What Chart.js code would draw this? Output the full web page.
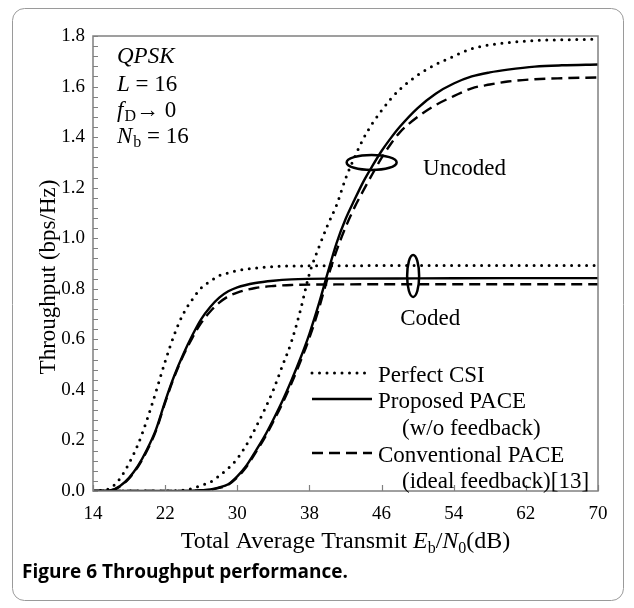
<!DOCTYPE html>
<html>
<head>
<meta charset="utf-8">
<script src="https://cdn.jsdelivr.net/npm/chart.js@4.4.1/dist/chart.umd.min.js"></script>
<style>
  html, body { margin: 0; padding: 0; background: #fff; }
  #wrap { width: 634px; height: 608px; }
</style>
</head>
<body>
<div id="wrap"><canvas id="throughput-chart" width="634" height="608"></canvas></div>
<script>
// Eb/N0 grid (dB) and throughput (bps/Hz)
const codedDb = [14, 15, 16, 17, 18, 19, 20, 21, 22, 23, 24, 25, 26, 27, 28, 29, 30, 32, 34, 36, 40, 50, 60, 70];
const codedPerfect = [0, 0.003, 0.013, 0.05, 0.11, 0.185, 0.283, 0.395, 0.512, 0.617, 0.7, 0.757, 0.803, 0.83, 0.852, 0.863, 0.872, 0.882, 0.888, 0.89, 0.891, 0.892, 0.892, 0.892];
const codedProposed = [0, 0, 0.003, 0.02, 0.052, 0.1, 0.165, 0.245, 0.355, 0.455, 0.54, 0.615, 0.68, 0.728, 0.765, 0.79, 0.806, 0.823, 0.832, 0.837, 0.84, 0.841, 0.842, 0.842];
const codedConventional = [0, 0, 0.002, 0.018, 0.05, 0.097, 0.16, 0.24, 0.35, 0.45, 0.535, 0.605, 0.665, 0.71, 0.745, 0.77, 0.785, 0.803, 0.811, 0.815, 0.817, 0.818, 0.818, 0.818];

const uncodedDb = [14, 20, 22, 24, 25, 26, 27, 28, 29, 30, 31, 32, 33, 34, 35, 36, 37, 38, 39, 40, 41, 42, 43, 44, 45, 46, 47, 48, 50, 52, 54, 56, 58, 60, 63, 66, 70];
const uncodedPerfect = [0, 0, 0, 0.003, 0.01, 0.022, 0.035, 0.06, 0.09, 0.128, 0.182, 0.248, 0.32, 0.4, 0.495, 0.59, 0.715, 0.86, 0.96, 1.05, 1.13, 1.235, 1.32, 1.395, 1.455, 1.505, 1.55, 1.588, 1.645, 1.687, 1.72, 1.75, 1.765, 1.774, 1.782, 1.785, 1.787];
const uncodedProposed = [0, 0, 0, 0, 0.001, 0.003, 0.006, 0.014, 0.027, 0.058, 0.1, 0.156, 0.215, 0.283, 0.356, 0.437, 0.525, 0.622, 0.735, 0.86, 0.98, 1.075, 1.152, 1.225, 1.287, 1.345, 1.395, 1.44, 1.515, 1.572, 1.612, 1.64, 1.656, 1.667, 1.679, 1.684, 1.687];
const uncodedConventional = [0, 0, 0, 0, 0.001, 0.002, 0.005, 0.012, 0.025, 0.054, 0.095, 0.15, 0.208, 0.275, 0.346, 0.425, 0.512, 0.606, 0.715, 0.84, 0.95, 1.043, 1.122, 1.19, 1.255, 1.318, 1.372, 1.418, 1.48, 1.527, 1.562, 1.593, 1.608, 1.62, 1.629, 1.633, 1.636];

const xMin = 14, xMax = 70, xStep = 8;
const yMin = 0, yMax = 1.8, yStep = 0.2;

const SERIF = "'Liberation Serif', 'Times New Roman', serif";

const styles = {
  dot: { borderDash: [0, 7.5], borderWidth: 3, borderCapStyle: "round" },
  solid: { borderDash: [], borderWidth: 2.4, borderCapStyle: "butt" },
  dash: { borderDash: [11, 6], borderWidth: 2.4, borderCapStyle: "butt" },
};

function series(xs, ys, style) {
  return {
    data: xs.map((x, i) => ({ x: x, y: ys[i] })),
    borderColor: "#000",
    pointRadius: 0,
    fill: false,
    cubicInterpolationMode: "monotone",
    ...styles[style],
  };
}

// draw a run of text pieces one after another on a baseline
function runs(ctx, parts, x, y) {
  let cx = x;
  parts.forEach((p) => {
    ctx.font = p.font;
    ctx.fillText(p.t, cx, y + (p.dy || 0));
    cx += ctx.measureText(p.t).width + (p.gap || 0);
  });
  return cx;
}

function partsWidth(ctx, parts) {
  let w = 0;
  parts.forEach((p) => { ctx.font = p.font; w += ctx.measureText(p.t).width + (p.gap || 0); });
  return w;
}

const decor = {
  id: "decor",
  afterDraw(chart) {
    const { ctx, chartArea: a } = chart;
    const x = chart.scales.x, y = chart.scales.y;
    ctx.save();

    // frame and inward ticks
    ctx.strokeStyle = "#808080";
    ctx.lineWidth = 1.5;
    ctx.strokeRect(a.left, a.top, a.right - a.left, a.bottom - a.top);
    ctx.beginPath();
    for (let v = xMin; v <= xMax; v += xStep) {
      const px = Math.round(x.getPixelForValue(v)) + 0.5;
      ctx.moveTo(px, a.bottom);
      ctx.lineTo(px, a.bottom - 6);
    }
    for (let i = 0; i <= 45; i++) {
      const py = Math.round(y.getPixelForValue(i * yStep / 5)) + 0.5;
      ctx.moveTo(a.left, py);
      ctx.lineTo(a.left + 5, py);
    }
    ctx.lineWidth = 1.2;
    ctx.stroke();

    ctx.fillStyle = "#000";
    ctx.strokeStyle = "#000";
    ctx.textBaseline = "alphabetic";
    ctx.textAlign = "left";

    // group ellipses
    ctx.lineWidth = 2.5;
    ctx.beginPath();
    ctx.ellipse(x.getPixelForValue(44.9), y.getPixelForValue(1.3), 25, 7.5, 0, 0, Math.PI * 2);
    ctx.stroke();
    ctx.beginPath();
    ctx.ellipse(x.getPixelForValue(49.5), y.getPixelForValue(0.851), 6, 21, 0, 0, Math.PI * 2);
    ctx.stroke();

    const f = "23px " + SERIF;
    const fi = "italic 23px " + SERIF;
    const fs = "16px " + SERIF;
    ctx.font = f;
    ctx.fillText("Uncoded", x.getPixelForValue(50.6), y.getPixelForValue(1.28) + 8);
    ctx.textAlign = "center";
    ctx.fillText("Coded", x.getPixelForValue(51.4), y.getPixelForValue(0.69) + 8);
    ctx.textAlign = "left";

    // parameters, top left
    const px0 = a.left + 24;
    runs(ctx, [{ t: "QPSK", font: fi }], px0, a.top + 27);
    runs(ctx, [{ t: "L", font: fi }, { t: " = 16", font: f }], px0, a.top + 55);
    runs(ctx, [{ t: "f", font: fi, gap: 1 }, { t: "D", font: fs, dy: 4 }, { t: "\u2192 0", font: f }], px0, a.top + 81);
    runs(ctx, [{ t: "N", font: fi, gap: 1 }, { t: "b", font: fs, dy: 4 }, { t: " = 16", font: f }], px0, a.top + 107);

    // legend
    const lx0 = a.left + 219, lx1 = a.left + 279, tx = a.left + 285, tx2 = a.left + 309;
    const rowY = [382, 408, 435, 462, 488];
    [["dot", 0], ["solid", 1], ["dash", 3]].forEach(([s, r]) => {
      ctx.save();
      ctx.setLineDash(styles[s].borderDash);
      ctx.lineWidth = styles[s].borderWidth;
      ctx.lineCap = styles[s].borderCapStyle;
      ctx.beginPath();
      ctx.moveTo(lx0, rowY[r] - 9);
      ctx.lineTo(lx1, rowY[r] - 9);
      ctx.stroke();
      ctx.restore();
    });
    ctx.font = f;
    ctx.fillText("Perfect CSI", tx, rowY[0]);
    ctx.fillText("Proposed PACE", tx, rowY[1]);
    ctx.fillText("(w/o feedback)", tx2, rowY[2]);
    ctx.fillText("Conventional PACE", tx, rowY[3]);
    ctx.fillText("(ideal feedback)[13]", tx2, rowY[4]);

    // axis titles
    const xt = [
      { t: "Total Average Transmit ", font: "24px " + SERIF },
      { t: "E", font: "italic 24px " + SERIF },
      { t: "b", font: "16px " + SERIF, dy: 5 },
      { t: "/", font: "24px " + SERIF },
      { t: "N", font: "italic 24px " + SERIF },
      { t: "0", font: "16px " + SERIF, dy: 5 },
      { t: "(dB)", font: "24px " + SERIF },
    ];
    const w = partsWidth(ctx, xt);
    runs(ctx, xt, (a.left + a.right) / 2 - w / 2, 548);

    ctx.save();
    ctx.translate(49, 277);
    ctx.rotate(-Math.PI / 2);
    ctx.textAlign = "center";
    ctx.textBaseline = "middle";
    ctx.font = "23px " + SERIF;
    ctx.fillText("Throughput (bps/Hz)", 0, 0);
    ctx.restore();

    // caption and figure box
    ctx.font = "bold 19px 'Open Sans', 'Noto Sans', sans-serif";
    ctx.fillText("Figure 6 Throughput performance.", 22, 578);
    ctx.strokeStyle = "#9a9a9a";
    ctx.lineWidth = 1;
    ctx.beginPath();
    ctx.roundRect(12.5, 8.5, 611, 592, 12);
    ctx.stroke();

    ctx.restore();
  },
};

new Chart(document.getElementById("throughput-chart"), {
  type: "line",
  data: {
    datasets: [
      series(codedDb, codedPerfect, "dot"),
      series(codedDb, codedProposed, "solid"),
      series(codedDb, codedConventional, "dash"),
      series(uncodedDb, uncodedPerfect, "dot"),
      series(uncodedDb, uncodedProposed, "solid"),
      series(uncodedDb, uncodedConventional, "dash"),
    ],
  },
  options: {
    responsive: false,
    devicePixelRatio: 1,
    animation: false,
    layout: { padding: { top: 36, right: 36, left: 0, bottom: 0 } },
    plugins: { legend: { display: false }, tooltip: { enabled: false } },
    scales: {
      x: {
        type: "linear",
        min: xMin,
        max: xMax,
        grid: { display: false, drawTicks: false },
        border: { display: false },
        ticks: { stepSize: xStep, padding: 12, color: "#000", font: { family: SERIF, size: 19 } },
        afterFit(scale) { scale.height = 117; },
      },
      y: {
        min: yMin,
        max: yMax,
        grid: { display: false, drawTicks: false },
        border: { display: false },
        ticks: {
          stepSize: yStep,
          padding: 8,
          color: "#000",
          font: { family: SERIF, size: 19 },
          callback: (v) => v.toFixed(1),
        },
        afterFit(scale) { scale.width = 93; },
      },
    },
  },
  plugins: [decor],
});
</script>
</body>
</html>
